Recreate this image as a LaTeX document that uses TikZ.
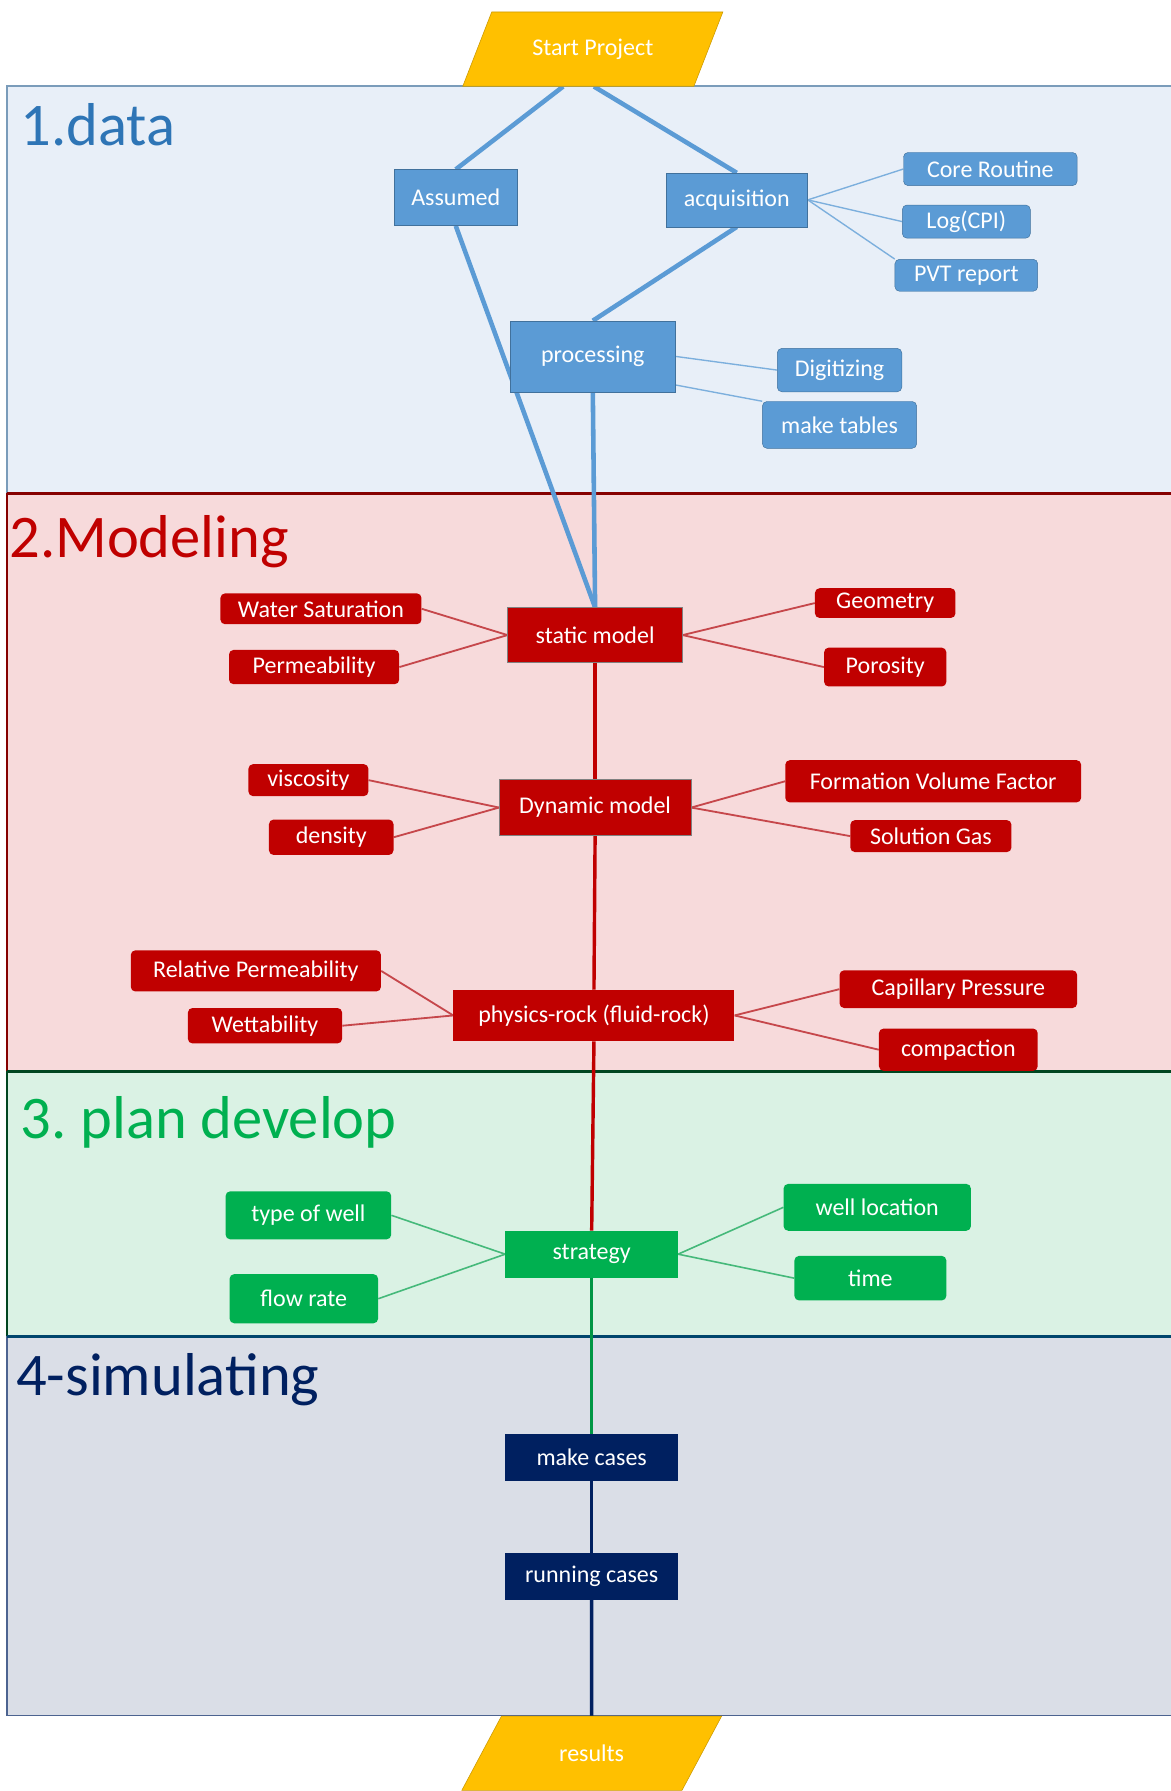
\documentclass[tikz,border=0pt]{standalone}
\usepackage{fontspec}
\setmainfont{Carlito}
\usetikzlibrary{shapes.geometric}
\pgfdeclarelayer{bg}
\pgfsetlayers{bg,main}

\definecolor{dataFill}{HTML}{5B9BD5}
\definecolor{dataEdge}{HTML}{41719C}
\definecolor{dataBand}{HTML}{E8EFF8}
\definecolor{dataTitle}{HTML}{2E75B6}
\definecolor{modFill}{HTML}{C00000}
\definecolor{modBand}{HTML}{F7DADB}
\definecolor{modThin}{HTML}{C6474B}
\definecolor{planFill}{HTML}{00B050}
\definecolor{planBand}{HTML}{DAF2E4}
\definecolor{planThin}{HTML}{45B97A}
\definecolor{simFill}{HTML}{002060}
\definecolor{simBand}{HTML}{DADEE7}
\definecolor{startFill}{HTML}{FFC000}

\begin{document}
\begin{tikzpicture}[
  x=1pt, y=-1pt,
  every node/.style={font=\fontsize{21}{24}\selectfont, text=white, inner sep=2pt},
  sz/.style 2 args={minimum width=#1, minimum height=#2},
  mainbox/.style={rectangle, fill=#1},
  leafbox/.style={rectangle, rounded corners=4pt, fill=#1},
  flowend/.style={trapezium, trapezium left angle=54.5, trapezium right angle=125.5,
    trapezium stretches=true, fill=startFill, draw=startFill!80!black, line width=.5pt,
    minimum width=228, minimum height=65},
  bandtitle/.style={anchor=base west, font=\fontsize{53}{58}\selectfont, text=#1},
  dataline/.style={draw=dataFill, line width=4pt},
  datathin/.style={draw=dataFill!80, line width=1.2pt},
  modline/.style={draw=modFill, line width=3pt},
  modthin/.style={draw=modThin, line width=1.6pt},
  planline/.style={draw=planFill!85!black, line width=3pt},
  planthin/.style={draw=planThin, line width=1.4pt},
  simline/.style={draw=simFill, line width=3pt},
]
\useasboundingbox (0,0) rectangle (1025,1568);

\begin{pgfonlayer}{bg}
\fill[white] (0,0) rectangle (1025,1568);
\draw[fill=dataBand, draw=dataEdge!70, line width=1.5pt] (6,75) rectangle (1032,432);
\draw[fill=modBand, draw=modFill!70!black, line width=1.5pt] (6,432) rectangle (1032,938);
\draw[fill=planBand, draw=planFill!40!black, line width=1.5pt] (6,938) rectangle (1032,1170);
\draw[fill=simBand, draw=simFill!70, line width=1.5pt] (6,1170) rectangle (1032,1502);
\draw[modFill!70!black, line width=2.5pt] (6,432) -- (1032,432);
\draw[planFill!40!black, line width=2pt] (6,938) -- (1032,938);
\draw[simFill!60!teal, line width=2pt] (6,1170) -- (1032,1170);
\end{pgfonlayer}

\node[bandtitle=dataTitle] (tdata) at (16,127) {1.data};
\node[bandtitle=modFill] (tmod) at (6,488) {2.Modeling};
\node[bandtitle=planFill] (tplan) at (16,997) {3.~plan develop};
\node[bandtitle=simFill] (tsim) at (12,1222) {4-simulating};

\node[flowend] (start) at (519,43) {Start Project};

\node[mainbox=dataFill, draw=dataEdge, sz={108}{49}] (assumed) at (399,173) {Assumed};
\node[mainbox=dataFill, draw=dataEdge, sz={124}{47}] (acq) at (645,175) {acquisition};
\node[leafbox=dataFill, draw=dataEdge, sz={152}{29}] (core) at (867,148) {Core Routine};
\node[leafbox=dataFill, draw=dataEdge, sz={112}{29}] (logcpi) at (846,194) {Log(CPI)};
\node[leafbox=dataFill, draw=dataEdge, sz={125}{28}] (pvt) at (846,241) {PVT report};
\node[mainbox=dataFill, draw=dataEdge, sz={144}{62}] (proc) at (519,312) {processing};
\node[leafbox=dataFill, draw=dataEdge, sz={109}{38}] (digit) at (735,324) {Digitizing};
\node[leafbox=dataFill, draw=dataEdge, sz={135}{41}] (tables) at (735,372) {make tables};

\node[mainbox=modFill, draw=gray, sz={153}{48}] (static) at (521,556) {static model};
\node[leafbox=modFill, sz={176}{27}] (water) at (281,533) {Water Saturation};
\node[leafbox=modFill, sz={149}{30}] (perm) at (275,584) {Permeability};
\node[leafbox=modFill, sz={123}{26}] (geom) at (775,528) {Geometry};
\node[leafbox=modFill, sz={107}{34}] (poro) at (775,584) {Porosity};

\node[mainbox=modFill, draw=gray, sz={168}{49}] (dyn) at (521,707) {Dynamic model};
\node[leafbox=modFill, sz={105}{28}] (visc) at (270,683) {viscosity};
\node[leafbox=modFill, sz={109}{31}] (dens) at (290,733) {density};
\node[leafbox=modFill, sz={259}{37}] (fvf) at (817,684) {Formation Volume Factor};
\node[leafbox=modFill, sz={141}{28}] (sgas) at (815,732) {Solution Gas};

\node[mainbox=modFill, sz={246}{45}] (phys) at (520,889) {physics-rock (fluid-rock)};
\node[leafbox=modFill, sz={219}{36}] (relperm) at (224,850) {Relative Permeability};
\node[leafbox=modFill, sz={135}{31}] (wett) at (232,898) {Wettability};
\node[leafbox=modFill, sz={208}{33}] (capp) at (839,866) {Capillary Pressure};
\node[leafbox=modFill, sz={139}{37}] (compac) at (839,919) {compaction};

\node[mainbox=planFill, sz={151}{41}] (strat) at (518,1098) {strategy};
\node[leafbox=planFill, sz={145}{42}] (typewell) at (270,1064) {type of well};
\node[leafbox=planFill, sz={130}{43}] (flow) at (266,1137) {flow rate};
\node[leafbox=planFill, sz={164}{41}] (wellloc) at (768,1057) {well location};
\node[leafbox=planFill, sz={133}{39}] (time) at (762,1119) {time};

\node[mainbox=simFill, sz={151}{41}] (mcases) at (518,1276) {make cases};
\node[mainbox=simFill, sz={151}{41}] (rcases) at (518,1380) {running cases};

\node[flowend] (results) at (518,1535) {results};

\begin{pgfonlayer}{bg}
\draw[dataline] ([xshift=-26]start.south) -- (assumed.north);
\draw[dataline] ([xshift=1]start.south) -- (acq.north);
\draw[dataline] (assumed.south) -- (static.north);
\draw[dataline] (acq.south) -- (proc.north);
\draw[dataline] (proc.south) -- (static.north);
\draw[datathin] (acq.east) -- (core.west);
\draw[datathin] (acq.east) -- (logcpi.west);
\draw[datathin] (acq.east) -- (pvt.north west);
\draw[datathin] (proc.east) -- (digit.west);
\draw[datathin] ([yshift=-25]proc.east) -- (tables.north west);

\draw[modthin] (water.east) -- (static.west);
\draw[modthin] (perm.east) -- (static.west);
\draw[modthin] (geom.west) -- (static.east);
\draw[modthin] (poro.west) -- (static.east);
\draw[modthin] (visc.east) -- (dyn.west);
\draw[modthin] (dens.east) -- (dyn.west);
\draw[modthin] (fvf.west) -- (dyn.east);
\draw[modthin] (sgas.west) -- (dyn.east);
\draw[modthin] (relperm.east) -- (phys.west);
\draw[modthin] (wett.east) -- (phys.west);
\draw[modthin] (capp.west) -- (phys.east);
\draw[modthin] (compac.west) -- (phys.east);

\draw[planthin] (typewell.east) -- (strat.west);
\draw[planthin] (flow.east) -- (strat.west);
\draw[planthin] (wellloc.west) -- (strat.east);
\draw[planthin] (time.west) -- (strat.east);

\draw[modline] (static.south) -- (dyn.north);
\draw[modline] (dyn.south) -- (phys.north);
\draw[modline] (phys.south) -- (strat.north);
\draw[planline] (strat.south) -- (mcases.north);
\draw[simline] (mcases.south) -- (rcases.north);
\draw[simline] (rcases.south) -- (results.north);
\end{pgfonlayer}
\end{tikzpicture}
\end{document}
